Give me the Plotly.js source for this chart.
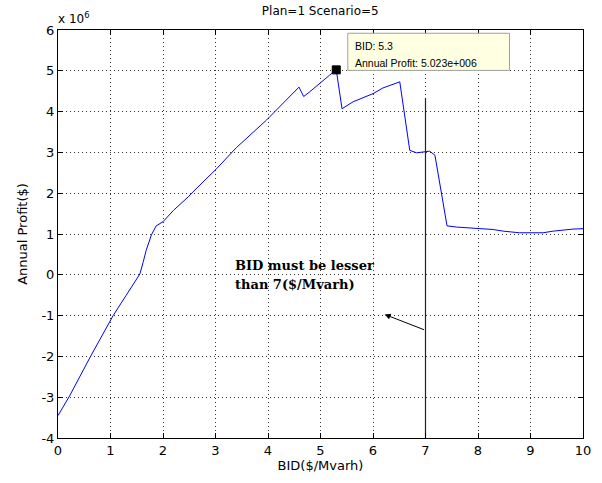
<!DOCTYPE html>
<html>
<head>
<meta charset="utf-8">
<script src="https://cdn.plot.ly/plotly-3.0.1.min.js"></script>
<style>html,body{margin:0;padding:0;background:#fff;}#chart{width:602px;height:483px;}</style>
</head>
<body>
<div id="chart"></div>
<script>
// BID ($/Mvarh)
const bid = [0, 0.22, 0.62, 1.05, 1.3, 1.56, 1.62, 1.68, 1.78, 1.87, 2.0, 2.2, 2.48, 2.57, 3.02, 3.27, 3.40, 3.97, 4.22, 4.59, 4.68, 4.79, 5.17, 5.3, 5.41, 5.62, 6.0, 6.19, 6.51, 6.70, 6.83, 7.08, 7.18, 7.30, 7.41, 7.59, 7.84, 8.03, 8.29, 8.48, 8.79, 9.24, 9.43, 9.81, 10];
// Annual profit, in units of 10^6 $
const profit = [-3.45, -2.97, -2.0, -1.0, -0.5, 0.02, 0.3, 0.6, 0.98, 1.2, 1.3, 1.58, 1.91, 2.03, 2.6, 2.93, 3.12, 3.79, 4.12, 4.6, 4.37, 4.48, 4.89, 5.023, 4.07, 4.24, 4.44, 4.58, 4.73, 3.05, 2.99, 3.03, 2.93, 2.07, 1.20, 1.17, 1.15, 1.13, 1.11, 1.07, 1.03, 1.03, 1.07, 1.12, 1.13];
// data tip
const tipX = [5.3];
const tipY = [5.023];
const tipLines = ['BID: 5.3', 'Annual Profit: 5.023e+006'];
// limit line at BID = 7
const limitX = [7, 7];
const limitY = [-4, 4.33];
// note text and arrow (tail -> head)
const noteLines = ['BID must be lesser', 'than 7($/Mvarh)'];
const arrowTail = [7, -1.36];
const arrowHead = [6.22, -0.97];
const xTicks = [0,1,2,3,4,5,6,7,8,9,10];
const yTicks = [-4,-3,-2,-1,0,1,2,3,4,5,6];

const font = {family: 'DejaVu Sans, sans-serif', size: 13, color: '#000'};
const tipFont = {family: 'Liberation Sans, Arial, sans-serif', size: 10.5, color: '#000'};
const noteFont = {family: 'DejaVu Serif, serif', size: 13, color: '#000'};

const traces = [
  {x: bid, y: profit, type: 'scatter', mode: 'lines', line: {color: '#0000ff', width: 1}, hoverinfo: 'skip'},
  {x: limitX, y: limitY, type: 'scatter', mode: 'lines', line: {color: '#222', width: 1.2}, hoverinfo: 'skip'},
  {x: tipX, y: tipY, type: 'scatter', mode: 'markers', marker: {symbol: 'square', size: 8, color: '#000', line: {color: '#000', width: 1}}, hoverinfo: 'skip'}
];

const axisCommon = {
  showline: true, mirror: 'ticks', linecolor: '#000', linewidth: 1,
  ticks: 'inside', ticklen: 5, tickcolor: '#000',
  showgrid: true, gridcolor: '#333', griddash: '1px,3px', gridwidth: 1,
  zeroline: false, tickfont: font
};

const layout = {
  width: 602, height: 483,
  margin: {l: 58, r: 19, t: 30, b: 45},
  paper_bgcolor: '#fff', plot_bgcolor: '#fff',
  showlegend: false,
  font: font,
  title: {text: 'Plan=1 Scenario=5', font: {family: font.family, size: 12, color: '#000'}, x: 0.532, xanchor: 'center', y: 0.986, yanchor: 'top'},
  xaxis: Object.assign({}, axisCommon, {range: [0, 10], tickvals: xTicks, ticktext: xTicks.map(String),
    title: {text: 'BID($/Mvarh)', font: font, standoff: 3}}),
  yaxis: Object.assign({}, axisCommon, {range: [-4, 6], tickvals: yTicks, ticktext: yTicks.map(String),
    title: {text: 'Annual Profit($)', font: font, standoff: 10}}),
  shapes: [
    {type: 'rect', xref: 'x', yref: 'y', x0: 5.52, x1: 8.6, y0: 5.01, y1: 5.92,
     fillcolor: '#ffffe1', line: {color: '#a0a0a0', width: 1}, layer: 'above'}
  ],
  annotations: [
    {xref: 'paper', yref: 'paper', x: 0, y: 1, xanchor: 'left', yanchor: 'bottom', yshift: 2, xshift: -2,
     text: 'x 10<sup>6</sup>', showarrow: false, font: {family: font.family, size: 12, color: '#000'}},
    {x: 5.61, y: 5.62, xref: 'x', yref: 'y', xanchor: 'left', yanchor: 'middle', align: 'left',
     text: tipLines[0], showarrow: false, font: tipFont},
    {x: 5.61, y: 5.19, xref: 'x', yref: 'y', xanchor: 'left', yanchor: 'middle', align: 'left',
     text: tipLines[1], showarrow: false, font: tipFont},
    {x: 3.34, y: 0.233, xref: 'x', yref: 'y', xanchor: 'left', yanchor: 'middle', align: 'left',
     text: '<b>' + noteLines[0] + '</b>', showarrow: false, font: noteFont},
    {x: 3.34, y: -0.233, xref: 'x', yref: 'y', xanchor: 'left', yanchor: 'middle', align: 'left',
     text: '<b>' + noteLines[1] + '</b>', showarrow: false, font: noteFont},
    {x: arrowHead[0], y: arrowHead[1], ax: arrowTail[0], ay: arrowTail[1], axref: 'x', ayref: 'y', xref: 'x', yref: 'y',
     text: '', showarrow: true, arrowhead: 2, arrowsize: 1.2, arrowwidth: 1, arrowcolor: '#000'}
  ]
};

Plotly.newPlot('chart', traces, layout, {staticPlot: true, displayModeBar: false});
</script>
</body>
</html>
